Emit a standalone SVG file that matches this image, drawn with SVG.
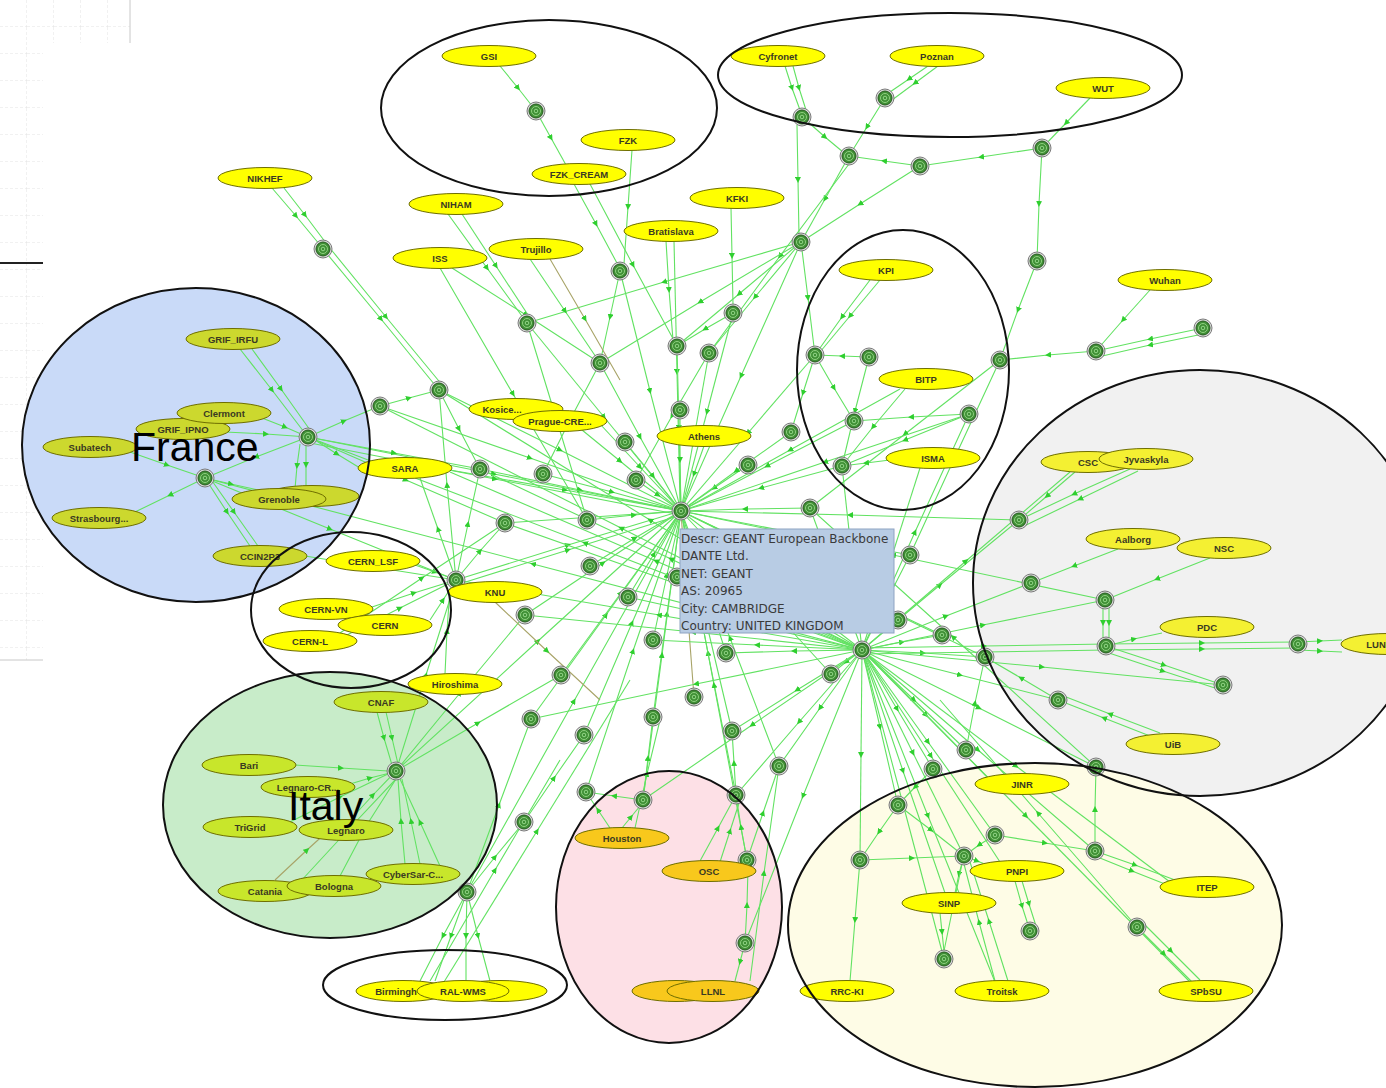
<svg xmlns="http://www.w3.org/2000/svg" xmlns:xlink="http://www.w3.org/1999/xlink" width="1386" height="1088" viewBox="0 0 1386 1088">
<style>
.e path{fill:none;stroke:#62e262;stroke-width:1.1;marker-mid:url(#a)}
.e path.ol{stroke:#a8a468}
.n ellipse{fill:#ffff00;stroke:#6e6e00;stroke-width:1}
.fr ellipse{fill:#ccd82e}
.it ellipse{fill:#c8e62b}
.pk ellipse{fill:#f8c81c}
.nd ellipse{fill:#f4f032}
.n text{font-family:"Liberation Sans",Arial,sans-serif;font-size:9.5px;font-weight:bold;fill:#3a3a22;text-anchor:middle}
.grp{fill:none;stroke:#111;stroke-width:2}
.tip text{font-family:"DejaVu Sans",sans-serif;font-size:12px;fill:#3a3a3a}
.big{font-family:"Liberation Sans",Arial,sans-serif;font-size:41px;fill:#000}
</style>
<defs>
<marker id="a" viewBox="0 0 6 6" refX="3" refY="3" markerWidth="6" markerHeight="6" markerUnits="userSpaceOnUse" orient="auto"><path d="M0,0 L6,3 L0,6 z" fill="#2fcf2f"/></marker>
<g id="rt"><circle r="9" fill="#dcdcdc" stroke="#7a7a7a" stroke-width="1"/><circle r="7" fill="#3f8f35" stroke="#275a20" stroke-width="1"/><circle r="4.5" fill="none" stroke="#8fd080" stroke-width="1"/><circle r="1.8" fill="none" stroke="#a6e69a" stroke-width="0.8"/></g>
<pattern id="grid" width="27" height="27" patternUnits="userSpaceOnUse"><path d="M27 0V27M0 27H27" stroke="#e2e2e2" stroke-dasharray="3 2" fill="none"/></pattern>
</defs>
<rect width="1386" height="1088" fill="#fff"/>
<g id="slide-bg">
<rect x="0" y="0" width="130" height="43" fill="url(#grid)"/>
<rect x="0" y="43" width="43" height="617" fill="url(#grid)"/>
<path d="M130 0V43M0 660H43" stroke="#c8c8c8" fill="none"/>
<path d="M0 263H43" stroke="#222" stroke-width="2"/>
</g>
<g id="group-fills">
<ellipse cx="196" cy="445" rx="174" ry="157" fill="#c9daf8"/>
<ellipse cx="330" cy="805" rx="167" ry="133" fill="#c8ecc9"/>
<ellipse cx="669" cy="907" rx="113" ry="136" fill="#fde0e6"/>
<ellipse cx="1200" cy="583" rx="227" ry="213" fill="#f1f1f1"/>
<ellipse cx="1035" cy="925" rx="247" ry="162" fill="#fefce6"/>
</g>
<g id="connectors" class="e">
<path d="M500 66L518 88L536 111"/><path d="M536 111L551 138L566 165"/><path d="M574 184L596 224L618 265"/><path d="M590 184L633 265L677 346"/><path d="M632 150L628 207L624 264"/><path d="M620 271L650 391L681 511"/><path d="M620 271L610 317L600 363"/><path d="M666 241L669 290L673 340"/><path d="M674 241L677 372L680 503"/><path d="M731 208L732 256L733 305"/><path d="M785 66L792 88L800 110"/><path d="M793 66L799 88L806 110"/><path d="M797 125L798 180L799 236"/><path d="M808 122L825 137L843 152"/><path d="M928 66L909 79L890 92"/><path d="M938 66L915 83L892 100"/><path d="M885 98L867 127L849 156"/><path d="M849 156L825 199L801 242"/><path d="M852 160L780 256L709 353"/><path d="M1090 98L1066 123L1042 148"/><path d="M1042 148L981 157L920 166"/><path d="M920 166L884 161L849 156"/><path d="M920 166L860 204L801 242"/><path d="M1042 148L1039 204L1037 261"/><path d="M1037 261L1018 310L1000 360"/><path d="M1150 290L1123 320L1096 351"/><path d="M1203 328L1150 339L1096 351"/><path d="M1203 334L1150 345L1098 357"/><path d="M1096 351L1048 355L1000 360"/><path d="M1000 360L955 457L910 555"/><path d="M1000 360L905 434L810 508"/><path d="M870 280L842 317L815 355"/><path d="M880 280L850 316L820 352"/><path d="M869 357L842 356L815 355"/><path d="M869 357L855 411L842 466"/><path d="M801 242L755 297L709 353"/><path d="M801 242L741 376L681 511"/><path d="M801 242L739 294L677 346"/><path d="M801 242L808 298L815 355"/><path d="M801 242L664 282L527 323"/><path d="M801 242L700 302L600 363"/><path d="M905 389L873 427L842 466"/><path d="M900 389L790 450L681 511"/><path d="M969 414L911 417L854 421"/><path d="M969 414L905 440L842 466"/><path d="M890 460L866 463L842 466"/><path d="M920 468L891 559L862 650"/><path d="M815 355L834 388L854 421"/><path d="M815 355L748 433L681 511"/><path d="M815 355L803 393L791 432"/>
<path d="M272 188L296 216L320 245"/><path d="M284 188L305 215L326 243"/><path d="M323 249L381 319L439 390"/><path d="M329 247L386 317L443 386"/><path d="M439 390L560 450L681 511"/><path d="M439 390L459 429L480 469"/><path d="M448 214L487 268L527 323"/><path d="M462 214L496 266L530 318"/><path d="M527 323L604 417L681 511"/><path d="M527 323L557 421L587 520"/><path d="M452 268L526 315L600 363"/><path d="M440 268L513 394L587 520"/><path d="M530 259L565 311L600 363"/><path class="ol" d="M550 259L585 319L620 380"/><path d="M600 363L640 437L681 511"/><path d="M600 363L571 418L543 474"/><path d="M677 346L679 428L681 511"/><path d="M709 353L695 432L681 511"/><path d="M733 313L707 412L681 511"/><path d="M733 313L705 329L677 346"/><path d="M709 353L672 416L636 480"/>
<path d="M704 446L694 474L684 503"/><path d="M680 410L680 460L681 511"/><path d="M625 442L653 476L681 511"/><path d="M636 480L658 495L681 511"/><path d="M543 474L612 492L681 511"/><path d="M480 469L580 490L681 511"/><path d="M450 470L565 490L681 511"/><path d="M560 412L620 461L681 511"/><path d="M600 424L640 467L681 511"/><path d="M380 406L530 458L681 511"/><path d="M308 437L494 474L681 511"/><path d="M310 443L495 479L681 515"/><path d="M308 437L394 453L480 469"/><path d="M748 465L714 488L681 511"/><path d="M791 432L736 471L681 511"/><path d="M854 421L767 466L681 511"/><path d="M842 466L761 488L681 511"/><path d="M810 508L745 509L681 511"/><path d="M910 555L795 533L681 511"/><path d="M1019 520L850 515L681 511"/><path d="M505 523L593 517L681 511"/><path d="M587 520L634 515L681 511"/><path d="M456 580L568 545L681 511"/><path d="M456 585L568 550L681 515"/><path d="M590 566L635 538L681 511"/><path d="M628 597L654 554L681 511"/><path d="M525 615L603 563L681 511"/><path d="M653 640L667 575L681 511"/><path d="M726 653L703 582L681 511"/><path d="M862 650L771 580L681 511"/><path class="ol" d="M694 697L687 604L681 511"/><path d="M831 674L756 592L681 511"/><path d="M732 731L706 621L681 511"/><path d="M653 717L667 614L681 511"/><path d="M531 719L606 615L681 511"/><path d="M584 735L632 623L681 511"/><path d="M779 766L730 638L681 511"/><path d="M736 795L708 653L681 511"/><path d="M561 675L621 593L681 511"/><path d="M396 771L538 641L681 511"/><path d="M467 892L574 701L681 511"/><path d="M586 792L633 651L681 511"/><path d="M643 800L662 655L681 511"/><path d="M747 860L714 685L681 511"/><path d="M942 635L811 573L681 511"/><path d="M898 620L789 565L681 511"/><path d="M1105 600L893 555L681 511"/><path d="M969 414L825 462L681 511"/>
<path d="M862 650L902 642L942 635"/><path d="M862 650L923 653L985 657"/><path d="M862 648L984 646L1106 644"/><path d="M862 654L984 652L1106 650"/><path d="M862 650L1042 667L1223 685"/><path d="M862 650L960 675L1058 700"/><path d="M862 650L914 700L966 750"/><path d="M862 650L897 709L933 769"/><path d="M862 650L979 708L1096 767"/><path d="M862 650L880 727L898 805"/><path d="M862 650L928 742L995 835"/><path d="M862 650L861 755L860 860"/><path d="M862 650L913 753L964 856"/><path d="M862 650L978 750L1095 851"/><path d="M862 650L926 715L990 780"/><path d="M862 650L931 756L1000 862"/><path d="M862 650L1016 766L1170 882"/><path d="M862 650L1026 816L1190 982"/><path d="M862 650L846 662L831 674"/><path d="M862 650L794 651L726 653"/><path d="M862 650L836 579L810 508"/><path d="M862 650L886 602L910 555"/><path d="M862 650L940 585L1019 520"/><path d="M862 650L852 558L842 466"/><path d="M862 650L915 532L969 414"/><path d="M862 650L966 561L1070 472"/><path d="M862 650L946 616L1031 583"/><path d="M862 650L983 625L1105 600"/><path d="M862 650L757 645L653 640"/><path d="M862 650L745 623L628 597"/><path d="M862 650L659 615L456 580"/><path d="M862 650L693 632L525 615"/><path d="M862 650L696 684L531 719"/><path d="M862 650L683 586L505 523"/><path d="M862 650L671 559L480 469"/><path d="M862 650L621 528L380 406"/><path d="M862 650L650 520L439 390"/><path d="M862 650L656 561L450 472"/><path d="M862 650L585 543L308 437"/><path d="M862 650L533 564L205 478"/><path d="M862 650L820 708L779 766"/><path d="M862 650L799 722L736 795"/><path d="M862 650L797 690L732 731"/><path d="M862 650L752 725L643 800"/><path d="M862 650L803 796L745 943"/><path d="M862 650L928 816L995 982"/><path d="M862 650L903 771L945 893"/><path d="M862 650L903 804L944 959"/>
<path d="M1075 472L1047 496L1019 520"/><path d="M1130 469L1074 494L1019 520"/><path d="M1138 471L1080 499L1022 527"/><path d="M1118 549L1074 566L1031 583"/><path d="M1210 558L1157 579L1105 600"/><path d="M1103 606L1103 623L1103 640"/><path d="M1109 606L1109 623L1109 640"/><path d="M1106 646L1134 639L1162 633"/><path d="M1106 644L1202 643L1298 642"/><path d="M1106 650L1202 649L1298 648"/><path d="M1298 642L1320 641L1342 640"/><path d="M1298 650L1320 651L1342 652"/><path d="M1106 646L1164 665L1223 685"/><path d="M1106 652L1163 671L1221 690"/><path d="M1150 736L1104 718L1058 700"/><path d="M1160 733L1110 714L1061 695"/><path d="M1058 700L1021 678L985 657"/><path d="M985 657L833 584L681 511"/><path d="M966 750L975 703L985 657"/><path d="M1096 767L953 637L810 508"/>
<path d="M933 769L915 787L898 805"/><path d="M898 805L879 832L860 860"/><path d="M860 860L855 920L850 981"/><path d="M860 860L912 858L964 856"/><path d="M898 805L931 830L964 856"/><path d="M964 856L977 861L990 866"/><path d="M964 856L959 874L955 893"/><path d="M962 864L953 907L944 951"/><path d="M940 913L942 932L944 951"/><path d="M995 835L1045 843L1095 851"/><path d="M1095 851L1135 865L1175 880"/><path d="M1095 856L1132 871L1170 886"/><path d="M1095 851L1095 809L1096 767"/><path d="M995 835L979 845L964 856"/><path d="M995 981L979 922L964 864"/><path d="M1008 981L989 921L970 862"/><path d="M1015 881L1022 906L1030 931"/><path d="M1022 881L1029 904L1036 926"/><path d="M1137 927L1164 954L1192 982"/><path d="M1142 922L1171 951L1200 980"/><path d="M1137 927L1038 813L940 700"/>
<path d="M622 828L631 817L640 806"/><path d="M610 828L598 810L586 792"/><path d="M643 800L614 796L586 792"/><path d="M635 828L647 774L660 720"/><path d="M700 861L718 828L736 795"/><path d="M720 862L730 831L740 800"/><path d="M747 860L741 827L736 795"/><path d="M745 943L740 962L735 981"/><path d="M745 943L747 905L748 868"/><path d="M747 860L763 813L779 766"/><path d="M750 981L764 873L779 766"/><path d="M736 795L734 763L732 731"/><path d="M643 800L648 758L653 717"/>
<path d="M377 712L384 738L392 765"/><path d="M386 712L392 738L398 764"/><path d="M295 765L341 768L388 771"/><path d="M350 784L370 778L390 773"/><path d="M290 822L340 797L390 773"/><path d="M350 820L373 795L396 771"/><path d="M340 876L368 823L396 779"/><path d="M300 882L348 830L396 779"/><path d="M405 864L401 821L398 779"/><path d="M420 864L411 821L402 779"/><path d="M440 866L420 822L400 779"/><path d="M396 771L426 675L456 580"/><path d="M396 771L460 693L525 615"/><path d="M396 771L478 723L561 675"/><path class="ol" d="M275 880L307 850L340 820"/>
<path d="M467 892L443 936L420 981"/><path d="M467 892L451 936L435 981"/><path d="M467 892L466 936L466 981"/><path d="M467 892L478 936L490 981"/><path d="M430 981L495 870L560 760"/><path d="M467 892L495 857L524 822"/><path d="M524 822L554 778L584 735"/><path d="M467 892L499 805L531 719"/><path d="M444 982L537 831L630 680"/>
<path d="M415 565L435 572L456 580"/><path d="M372 607L414 593L456 580"/><path d="M430 620L443 600L456 580"/><path d="M345 636L400 608L456 580"/><path d="M445 674L447 631L450 588"/><path class="ol" d="M495 602L547 651L600 700"/><path d="M305 556L380 568L456 580"/><path d="M456 580L468 524L480 469"/><path d="M456 580L438 529L420 478"/><path d="M456 580L447 485L439 390"/><path d="M340 633L422 578L505 523"/><path d="M456 580L480 551L505 523"/>
<path d="M240 349L272 390L304 432"/><path d="M252 349L281 389L310 430"/><path d="M262 418L285 427L308 437"/><path d="M225 432L266 434L308 437"/><path d="M308 437L256 457L205 478"/><path d="M130 452L167 465L205 478"/><path d="M205 478L170 495L135 512"/><path d="M205 478L227 512L250 546"/><path d="M210 478L234 512L258 546"/><path d="M300 444L297 466L295 489"/><path d="M306 444L306 465L306 486"/><path d="M205 478L231 484L258 490"/><path d="M308 437L344 421L380 406"/><path d="M315 440L337 454L360 468"/><path d="M308 437L406 480L505 523"/><path d="M205 478L330 529L456 580"/><path d="M380 406L409 398L439 390"/>
</g>
<g id="routers">
<g id="r1"><use href="#rt" x="536" y="111"/></g><g id="r2"><use href="#rt" x="885" y="98"/></g><g id="r3"><use href="#rt" x="802" y="117"/></g><g id="r4"><use href="#rt" x="849" y="156"/></g><g id="r5"><use href="#rt" x="920" y="166"/></g><g id="r6"><use href="#rt" x="1042" y="148"/></g><g id="r7"><use href="#rt" x="323" y="249"/></g><g id="r8"><use href="#rt" x="620" y="271"/></g><g id="r9"><use href="#rt" x="801" y="242"/></g><g id="r10"><use href="#rt" x="1037" y="261"/></g><g id="r11"><use href="#rt" x="527" y="323"/></g><g id="r12"><use href="#rt" x="733" y="313"/></g><g id="r13"><use href="#rt" x="1203" y="328"/></g><g id="r14"><use href="#rt" x="1096" y="351"/></g><g id="r15"><use href="#rt" x="1000" y="360"/></g><g id="r16"><use href="#rt" x="677" y="346"/></g><g id="r17"><use href="#rt" x="709" y="353"/></g><g id="r18"><use href="#rt" x="815" y="355"/></g><g id="r19"><use href="#rt" x="869" y="357"/></g><g id="r20"><use href="#rt" x="600" y="363"/></g><g id="r21"><use href="#rt" x="439" y="390"/></g><g id="r22"><use href="#rt" x="380" y="406"/></g><g id="r23"><use href="#rt" x="308" y="437"/></g><g id="r24"><use href="#rt" x="205" y="478"/></g><g id="r25"><use href="#rt" x="680" y="410"/></g><g id="r26"><use href="#rt" x="625" y="442"/></g><g id="r27"><use href="#rt" x="748" y="465"/></g><g id="r28"><use href="#rt" x="791" y="432"/></g><g id="r29"><use href="#rt" x="854" y="421"/></g><g id="r30"><use href="#rt" x="969" y="414"/></g><g id="r31"><use href="#rt" x="842" y="466"/></g><g id="r32"><use href="#rt" x="480" y="469"/></g><g id="r33"><use href="#rt" x="636" y="480"/></g><g id="r34"><use href="#rt" x="543" y="474"/></g><g id="geant"><use href="#rt" x="681" y="511"/></g><g id="r35"><use href="#rt" x="505" y="523"/></g><g id="r36"><use href="#rt" x="587" y="520"/></g><g id="r37"><use href="#rt" x="810" y="508"/></g><g id="r38"><use href="#rt" x="910" y="555"/></g><g id="r39"><use href="#rt" x="1019" y="520"/></g><g id="r40"><use href="#rt" x="456" y="580"/></g><g id="r41"><use href="#rt" x="590" y="566"/></g><g id="r42"><use href="#rt" x="628" y="597"/></g><g id="r43"><use href="#rt" x="525" y="615"/></g><g id="r44"><use href="#rt" x="653" y="640"/></g><g id="r45"><use href="#rt" x="1105" y="600"/></g><g id="r46"><use href="#rt" x="1106" y="646"/></g><g id="r47"><use href="#rt" x="1298" y="644"/></g><g id="r48"><use href="#rt" x="1223" y="685"/></g><g id="r49"><use href="#rt" x="942" y="635"/></g><g id="hub2"><use href="#rt" x="862" y="650"/></g><g id="r50"><use href="#rt" x="985" y="657"/></g><g id="r51"><use href="#rt" x="726" y="653"/></g><g id="r52"><use href="#rt" x="561" y="675"/></g><g id="r53"><use href="#rt" x="694" y="697"/></g><g id="r54"><use href="#rt" x="831" y="674"/></g><g id="r55"><use href="#rt" x="1058" y="700"/></g><g id="r56"><use href="#rt" x="653" y="717"/></g><g id="r57"><use href="#rt" x="531" y="719"/></g><g id="r58"><use href="#rt" x="732" y="731"/></g><g id="r59"><use href="#rt" x="396" y="771"/></g><g id="r60"><use href="#rt" x="584" y="735"/></g><g id="r61"><use href="#rt" x="966" y="750"/></g><g id="r62"><use href="#rt" x="779" y="766"/></g><g id="r63"><use href="#rt" x="933" y="769"/></g><g id="r64"><use href="#rt" x="1096" y="767"/></g><g id="r65"><use href="#rt" x="586" y="792"/></g><g id="r66"><use href="#rt" x="643" y="800"/></g><g id="r67"><use href="#rt" x="736" y="795"/></g><g id="r68"><use href="#rt" x="898" y="805"/></g><g id="r69"><use href="#rt" x="995" y="835"/></g><g id="r70"><use href="#rt" x="524" y="822"/></g><g id="r71"><use href="#rt" x="860" y="860"/></g><g id="r72"><use href="#rt" x="964" y="856"/></g><g id="r73"><use href="#rt" x="1095" y="851"/></g><g id="r74"><use href="#rt" x="747" y="860"/></g><g id="r75"><use href="#rt" x="1030" y="931"/></g><g id="r76"><use href="#rt" x="1137" y="927"/></g><g id="r77"><use href="#rt" x="467" y="892"/></g><g id="r78"><use href="#rt" x="745" y="943"/></g><g id="r79"><use href="#rt" x="944" y="959"/></g><g id="r80"><use href="#rt" x="677" y="577"/></g><g id="r81"><use href="#rt" x="898" y="620"/></g><g id="r82"><use href="#rt" x="1031" y="583"/></g>
</g>
<g id="nodes">
<g id="n-gsi" class="n"><ellipse cx="489" cy="56" rx="47" ry="10.5"/><text x="489" y="59.5">GSI</text></g>
<g id="n-fzk" class="n"><ellipse cx="628" cy="140" rx="47" ry="10.5"/><text x="628" y="143.5">FZK</text></g>
<g id="n-fzkcream" class="n"><ellipse cx="579" cy="174" rx="47" ry="10.5"/><text x="579" y="177.5">FZK_CREAM</text></g>
<g id="n-cyfronet" class="n"><ellipse cx="778" cy="56" rx="47" ry="10.5"/><text x="778" y="59.5">Cyfronet</text></g>
<g id="n-poznan" class="n"><ellipse cx="937" cy="56" rx="47" ry="10.5"/><text x="937" y="59.5">Poznan</text></g>
<g id="n-wut" class="n"><ellipse cx="1103" cy="88" rx="47" ry="10.5"/><text x="1103" y="91.5">WUT</text></g>
<g id="n-nikhef" class="n"><ellipse cx="265" cy="178" rx="47" ry="10.5"/><text x="265" y="181.5">NIKHEF</text></g>
<g id="n-niham" class="n"><ellipse cx="456" cy="204" rx="47" ry="10.5"/><text x="456" y="207.5">NIHAM</text></g>
<g id="n-kfki" class="n"><ellipse cx="737" cy="198" rx="47" ry="10.5"/><text x="737" y="201.5">KFKI</text></g>
<g id="n-bratislava" class="n"><ellipse cx="671" cy="231" rx="47" ry="10.5"/><text x="671" y="234.5">Bratislava</text></g>
<g id="n-iss" class="n"><ellipse cx="440" cy="258" rx="47" ry="10.5"/><text x="440" y="261.5">ISS</text></g>
<g id="n-trujillo" class="n"><ellipse cx="536" cy="249" rx="47" ry="10.5"/><text x="536" y="252.5">Trujillo</text></g>
<g id="n-kpi" class="n"><ellipse cx="886" cy="270" rx="47" ry="10.5"/><text x="886" y="273.5">KPI</text></g>
<g id="n-wuhan" class="n"><ellipse cx="1165" cy="280" rx="47" ry="10.5"/><text x="1165" y="283.5">Wuhan</text></g>
<g id="n-bitp" class="n"><ellipse cx="926" cy="379" rx="47" ry="10.5"/><text x="926" y="382.5">BITP</text></g>
<g id="n-isma" class="n"><ellipse cx="933" cy="458" rx="47" ry="10.5"/><text x="933" y="461.5">ISMA</text></g>
<g id="n-kosice" class="n"><ellipse cx="516" cy="409" rx="47" ry="10.5"/><text x="502" y="412.5">Kosice...</text></g>
<g id="n-prague" class="n"><ellipse cx="560" cy="421" rx="47" ry="10.5"/><text x="560" y="424.5">Prague-CRE...</text></g>
<g id="n-athens" class="n"><ellipse cx="704" cy="436" rx="47" ry="10.5"/><text x="704" y="439.5">Athens</text></g>
<g id="n-sara" class="n"><ellipse cx="405" cy="468" rx="47" ry="10.5"/><text x="405" y="471.5">SARA</text></g>
<g id="n-grif-irfu" class="n fr"><ellipse cx="233" cy="339" rx="47" ry="10.5"/><text x="233" y="342.5">GRIF_IRFU</text></g>
<g id="n-grif-ipno" class="n fr"><ellipse cx="183" cy="429" rx="47" ry="10.5"/><text x="183" y="432.5">GRIF_IPNO</text></g>
<g id="n-clermont" class="n fr"><ellipse cx="224" cy="413" rx="47" ry="10.5"/><text x="224" y="416.5">Clermont</text></g>
<g id="n-subatech" class="n fr"><ellipse cx="90" cy="447" rx="47" ry="10.5"/><text x="90" y="450.5">Subatech</text></g>
<g id="n-grenoble2" class="n fr"><ellipse cx="312" cy="496" rx="47" ry="10.5"/></g>
<g id="n-grenoble" class="n fr"><ellipse cx="279" cy="499" rx="47" ry="10.5"/><text x="279" y="502.5">Grenoble</text></g>
<g id="n-strasbourg" class="n fr"><ellipse cx="99" cy="518" rx="47" ry="10.5"/><text x="99" y="521.5">Strasbourg...</text></g>
<g id="n-ccin2p3" class="n fr"><ellipse cx="260" cy="556" rx="47" ry="10.5"/><text x="260" y="559.5">CCIN2P3</text></g>
<g id="n-cern-lsf" class="n"><ellipse cx="373" cy="561" rx="47" ry="10.5"/><text x="373" y="564.5">CERN_LSF</text></g>
<g id="n-knu" class="n"><ellipse cx="495" cy="592" rx="47" ry="10.5"/><text x="495" y="595.5">KNU</text></g>
<g id="n-cern-vn" class="n"><ellipse cx="326" cy="609" rx="47" ry="10.5"/><text x="326" y="612.5">CERN-VN</text></g>
<g id="n-cern-l" class="n"><ellipse cx="310" cy="641" rx="47" ry="10.5"/><text x="310" y="644.5">CERN-L</text></g>
<g id="n-cern" class="n"><ellipse cx="385" cy="625" rx="47" ry="10.5"/><text x="385" y="628.5">CERN</text></g>
<g id="n-hiroshima" class="n"><ellipse cx="455" cy="684" rx="47" ry="10.5"/><text x="455" y="687.5">Hiroshima</text></g>
<g id="n-cnaf" class="n it"><ellipse cx="381" cy="702" rx="47" ry="10.5"/><text x="381" y="705.5">CNAF</text></g>
<g id="n-bari" class="n it"><ellipse cx="249" cy="765" rx="47" ry="10.5"/><text x="249" y="768.5">Bari</text></g>
<g id="n-legnaro-cr" class="n it"><ellipse cx="308" cy="787" rx="47" ry="10.5"/><text x="308" y="790.5">Legnaro-CR...</text></g>
<g id="n-trigrid" class="n it"><ellipse cx="250" cy="827" rx="47" ry="10.5"/><text x="250" y="830.5">TriGrid</text></g>
<g id="n-legnaro" class="n it"><ellipse cx="346" cy="830" rx="47" ry="10.5"/><text x="346" y="833.5">Legnaro</text></g>
<g id="n-catania" class="n it"><ellipse cx="265" cy="891" rx="47" ry="10.5"/><text x="265" y="894.5">Catania</text></g>
<g id="n-bologna" class="n it"><ellipse cx="334" cy="886" rx="47" ry="10.5"/><text x="334" y="889.5">Bologna</text></g>
<g id="n-cybersar" class="n it"><ellipse cx="413" cy="874" rx="47" ry="10.5"/><text x="413" y="877.5">CyberSar-C...</text></g>
<g id="n-uk3" class="n"><ellipse cx="500" cy="991" rx="47" ry="10.5"/></g>
<g id="n-birmingham" class="n"><ellipse cx="403" cy="991" rx="47" ry="10.5"/><text x="396" y="994.5">Birmingh</text></g>
<g id="n-ral-wms" class="n"><ellipse cx="463" cy="991" rx="46" ry="10.5"/><text x="463" y="994.5">RAL-WMS</text></g>
<g id="n-houston" class="n pk"><ellipse cx="622" cy="838" rx="47" ry="10.5"/><text x="622" y="841.5">Houston</text></g>
<g id="n-osc" class="n pk"><ellipse cx="709" cy="871" rx="47" ry="10.5"/><text x="709" y="874.5">OSC</text></g>
<g id="n-pink2" class="n pk"><ellipse cx="676" cy="991" rx="44" ry="10.5"/></g>
<g id="n-llnl" class="n pk"><ellipse cx="713" cy="991" rx="46" ry="10.5"/><text x="713" y="994.5">LLNL</text></g>
<g id="n-csc" class="n nd"><ellipse cx="1088" cy="462" rx="47" ry="10.5"/><text x="1088" y="465.5">CSC</text></g>
<g id="n-jyvaskyla" class="n nd"><ellipse cx="1146" cy="459" rx="47" ry="10.5"/><text x="1146" y="462.5">Jyvaskyla</text></g>
<g id="n-aalborg" class="n nd"><ellipse cx="1133" cy="539" rx="47" ry="10.5"/><text x="1133" y="542.5">Aalborg</text></g>
<g id="n-nsc" class="n nd"><ellipse cx="1224" cy="548" rx="47" ry="10.5"/><text x="1224" y="551.5">NSC</text></g>
<g id="n-pdc" class="n nd"><ellipse cx="1207" cy="627" rx="47" ry="10.5"/><text x="1207" y="630.5">PDC</text></g>
<g id="n-lun" class="n nd"><ellipse cx="1388" cy="644" rx="47" ry="10.5"/><text x="1376" y="647.5">LUN</text></g>
<g id="n-uib" class="n nd"><ellipse cx="1173" cy="744" rx="47" ry="10.5"/><text x="1173" y="747.5">UiB</text></g>
<g id="n-jinr" class="n"><ellipse cx="1022" cy="784" rx="47" ry="10.5"/><text x="1022" y="787.5">JINR</text></g>
<g id="n-pnpi" class="n"><ellipse cx="1017" cy="871" rx="47" ry="10.5"/><text x="1017" y="874.5">PNPI</text></g>
<g id="n-itep" class="n"><ellipse cx="1207" cy="887" rx="47" ry="10.5"/><text x="1207" y="890.5">ITEP</text></g>
<g id="n-sinp" class="n"><ellipse cx="949" cy="903" rx="47" ry="10.5"/><text x="949" y="906.5">SINP</text></g>
<g id="n-rrc-ki" class="n"><ellipse cx="847" cy="991" rx="47" ry="10.5"/><text x="847" y="994.5">RRC-KI</text></g>
<g id="n-troitsk" class="n"><ellipse cx="1002" cy="991" rx="47" ry="10.5"/><text x="1002" y="994.5">Troitsk</text></g>
<g id="n-spbsu" class="n"><ellipse cx="1206" cy="991" rx="47" ry="10.5"/><text x="1206" y="994.5">SPbSU</text></g>
</g>
<g id="group-outlines">
<ellipse class="grp" cx="549" cy="108" rx="168" ry="88"/>
<ellipse class="grp" cx="950" cy="75" rx="232" ry="62"/>
<ellipse class="grp" cx="903" cy="370" rx="106" ry="140"/>
<ellipse class="grp" cx="196" cy="445" rx="174" ry="157"/>
<ellipse class="grp" cx="351" cy="610" rx="100" ry="78"/>
<ellipse class="grp" cx="330" cy="805" rx="167" ry="133"/>
<ellipse class="grp" cx="445" cy="985" rx="122" ry="35"/>
<ellipse class="grp" cx="669" cy="907" rx="113" ry="136"/>
<ellipse class="grp" cx="1200" cy="583" rx="227" ry="213"/>
<ellipse class="grp" cx="1035" cy="925" rx="247" ry="162"/>
</g>
<g id="tooltip" class="tip">
<rect x="680" y="529" width="214" height="104" fill="#b8cce4" stroke="#8ea3c2" stroke-width="1"/>
<text x="681" y="543">Descr: GEANT European Backbone</text>
<text x="681" y="560">DANTE Ltd.</text>
<text x="681" y="578">NET: GEANT</text>
<text x="681" y="595">AS: 20965</text>
<text x="681" y="613">City: CAMBRIDGE</text>
<text x="681" y="630">Country: UNITED KINGDOM</text>
</g>
<g id="labels">
<text class="big" x="131" y="461">France</text>
<text class="big" x="288" y="820">Italy</text>
</g>
</svg>
